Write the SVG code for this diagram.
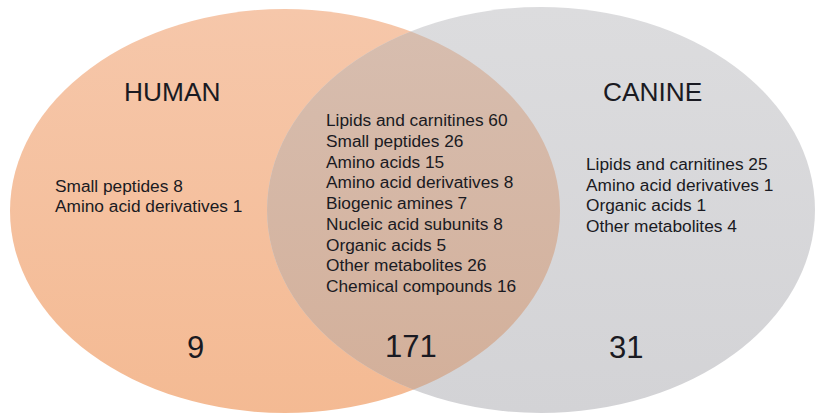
<svg xmlns="http://www.w3.org/2000/svg" width="816" height="413" viewBox="0 0 816 413">
<style>
text{font-family:"Liberation Sans",Arial,sans-serif;fill:#1a1a22}
.t{font-size:26.3px}
.l{font-size:17.3px}
.n{font-size:31px}
</style>
<defs>
<linearGradient id="gL" x1="0" y1="0" x2="0" y2="1">
<stop offset="0" stop-color="#F6C7AA"/>
<stop offset="1" stop-color="#F4BA93"/>
</linearGradient>
<linearGradient id="gR" x1="0" y1="0" x2="0" y2="1">
<stop offset="0" stop-color="#DCDCDE"/>
<stop offset="1" stop-color="#D3D3D6"/>
</linearGradient>
<linearGradient id="gO" x1="0" y1="0" x2="0" y2="1">
<stop offset="0" stop-color="#D7BEB0"/>
<stop offset="1" stop-color="#D3AF99"/>
</linearGradient>
<clipPath id="cR"><ellipse cx="541" cy="210" rx="274" ry="203"/></clipPath>
</defs>
<rect width="816" height="413" fill="#fff"/>
<g id="human-set"><ellipse cx="285" cy="211" rx="275" ry="202" fill="url(#gL)"/></g>
<g id="canine-set"><ellipse cx="541" cy="210" rx="274" ry="203" fill="url(#gR)"/></g>
<g id="overlap"><ellipse cx="285" cy="211" rx="275" ry="202" fill="url(#gO)" clip-path="url(#cR)"/></g>
<g id="connectors"></g>
<g id="human-labels">
<text class="t" x="124" y="101">HUMAN</text>
<text class="l" x="55" y="192">Small peptides 8</text>
<text class="l" x="55" y="212">Amino acid derivatives 1</text>
<text class="n" x="187" y="358">9</text>
</g>
<g id="shared-labels">
<text class="l" x="326" y="126">Lipids and carnitines 60</text>
<text class="l" x="326" y="146.8">Small peptides 26</text>
<text class="l" x="326" y="167.5">Amino acids 15</text>
<text class="l" x="326" y="188.3">Amino acid derivatives 8</text>
<text class="l" x="326" y="209">Biogenic amines 7</text>
<text class="l" x="326" y="229.8">Nucleic acid subunits 8</text>
<text class="l" x="326" y="250.5">Organic acids 5</text>
<text class="l" x="326" y="271.3">Other metabolites 26</text>
<text class="l" x="326" y="292">Chemical compounds 16</text>
<text class="n" x="385" y="357">171</text>
</g>
<g id="canine-labels">
<text class="t" x="603" y="101">CANINE</text>
<text class="l" x="586" y="170">Lipids and carnitines 25</text>
<text class="l" x="586" y="190.7">Amino acid derivatives 1</text>
<text class="l" x="586" y="211.3">Organic acids 1</text>
<text class="l" x="586" y="232">Other metabolites 4</text>
<text class="n" x="609" y="358">31</text>
</g>
</svg>
